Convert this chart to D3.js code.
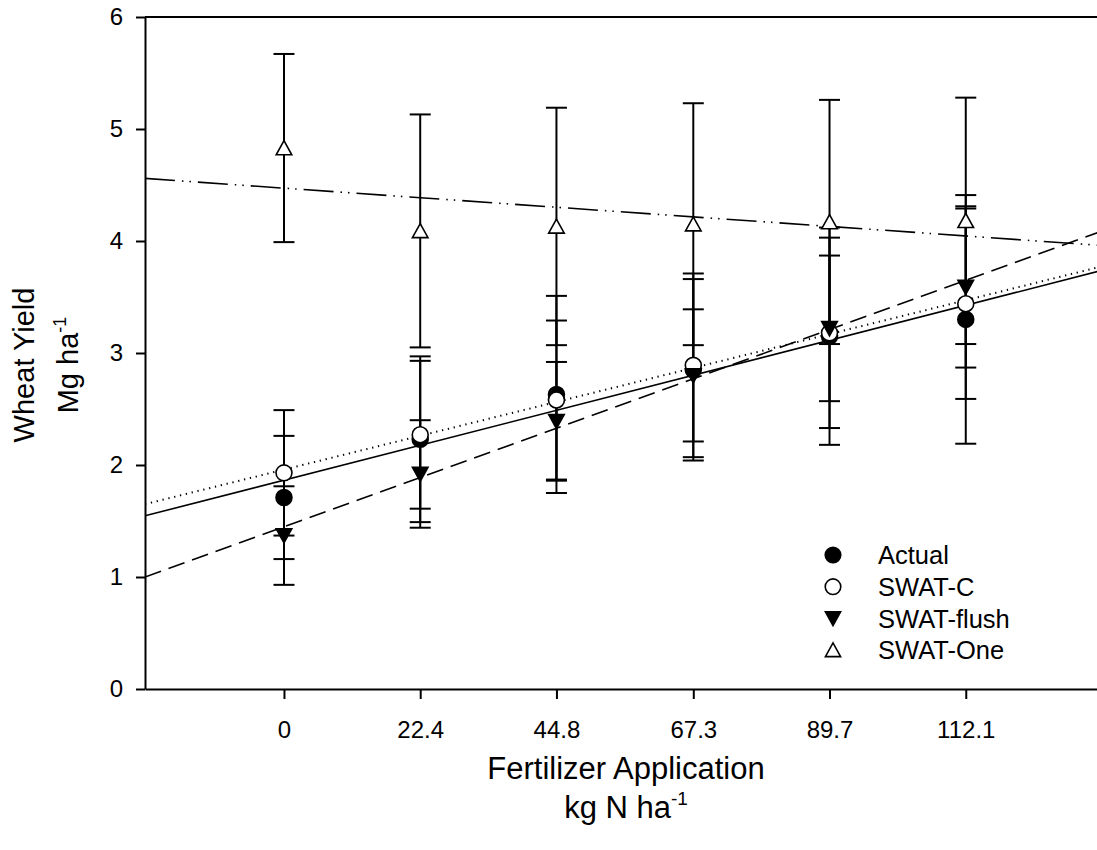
<!DOCTYPE html>
<html>
<head>
<meta charset="utf-8">
<script src="https://cdn.jsdelivr.net/npm/d3@7"></script>
<style>
  body { margin: 0; background: #fff; }
  text { font-family: Arial, "Liberation Sans", sans-serif; fill: #000; }
</style>
</head>
<body>
<svg class="chart"></svg>
<script>
var svgWidth = 1097,
    svgHeight = 850,
    plot = {left: 145, right: 1102, top: 17, bottom: 689};

// nitrogen rates, kg N / ha
var rates = [0, 22.4, 44.8, 67.3, 89.7, 112.1];
var rateLabels = ['0', '22.4', '44.8', '67.3', '89.7', '112.1'];

// yields (Mg/ha) and error bar half widths
var actual      = [1.71, 2.23, 2.63, 2.85, 3.15, 3.30];
var actualErr   = [0.55, 0.74, 0.88, 0.81, 0.97, 1.11];
var swatC       = [1.93, 2.27, 2.58, 2.89, 3.18, 3.44];
var swatCErr    = [0.56, 0.66, 0.71, 0.82, 0.85, 0.85];
var swatFlush   = [1.37, 1.92, 2.39, 2.80, 3.22, 3.59];
var swatFlushErr = [0.44, 0.48, 0.53, 0.59, 0.65, 0.72];
var swatOne     = [4.83, 4.09, 4.13, 4.15, 4.17, 4.18];
var swatOneErr  = [0.84, 1.04, 1.06, 1.08, 1.09, 1.10];

var yTicks = [0, 1, 2, 3, 4, 5, 6];

var series = [
  {name: 'Actual', values: actual, err: actualErr, symbol: 'circle', fill: '#000', dash: null},
  {name: 'SWAT-C', values: swatC, err: swatCErr, symbol: 'circle', fill: '#fff', dash: '1.3,4.7'},
  {name: 'SWAT-flush', values: swatFlush, err: swatFlushErr, symbol: 'down', fill: '#000', dash: '17,8'},
  {name: 'SWAT-One', values: swatOne, err: swatOneErr, symbol: 'up', fill: '#fff', dash: '30,7,1.5,6,1.5,7'}
];

var xScale = d3.scaleLinear().domain([-22.85, 134.5]).range([plot.left, plot.right]),
    yScale = d3.scaleLinear().domain([0, 6]).range([plot.bottom, plot.top]);

var svg = d3.select('.chart')
    .attr('width', svgWidth)
    .attr('height', svgHeight);

svg.append('defs').append('clipPath').attr('id', 'clip')
  .append('rect')
    .attr('x', plot.left).attr('y', plot.top)
    .attr('width', plot.right - plot.left).attr('height', plot.bottom - plot.top);

// least squares line for each series
var fit = function(xs, ys) {
  var mx = d3.mean(xs), my = d3.mean(ys);
  var sxy = d3.sum(xs, function(x, i) { return (x - mx) * (ys[i] - my); });
  var sxx = d3.sum(xs, function(x) { return (x - mx) * (x - mx); });
  var b = sxy / sxx;
  return {a: my - b * mx, b: b};
};

var lines = svg.append('g').attr('clip-path', 'url(#clip)');
series.forEach(function(s) {
  var f = fit(rates, s.values);
  var x0 = xScale.domain()[0], x1 = xScale.domain()[1];
  lines.append('line')
    .attr('x1', xScale(x0)).attr('y1', yScale(f.a + f.b * x0))
    .attr('x2', xScale(x1)).attr('y2', yScale(f.a + f.b * x1))
    .attr('stroke', '#000')
    .attr('stroke-width', s.dash === '1.3,4.7' ? 2 : 1.6)
    .attr('stroke-dasharray', s.dash);
});

// error bars
var bars = svg.append('g');
series.forEach(function(s) {
  var g = bars.selectAll(null).data(rates).enter().append('g');
  g.append('line')
    .attr('x1', function(d) { return xScale(d); })
    .attr('x2', function(d) { return xScale(d); })
    .attr('y1', function(d, i) { return yScale(s.values[i] + s.err[i]); })
    .attr('y2', function(d, i) { return yScale(s.values[i] - s.err[i]); });
  g.append('line')
    .attr('x1', function(d) { return xScale(d) - 10.5; })
    .attr('x2', function(d) { return xScale(d) + 10.5; })
    .attr('y1', function(d, i) { return yScale(s.values[i] + s.err[i]); })
    .attr('y2', function(d, i) { return yScale(s.values[i] + s.err[i]); });
  g.append('line')
    .attr('x1', function(d) { return xScale(d) - 10.5; })
    .attr('x2', function(d) { return xScale(d) + 10.5; })
    .attr('y1', function(d, i) { return yScale(s.values[i] - s.err[i]); })
    .attr('y2', function(d, i) { return yScale(s.values[i] - s.err[i]); });
});
bars.selectAll('line').attr('stroke', '#000').attr('stroke-width', 2);

var symbolPath = function(type, size) {
  if (type === 'circle') return d3.symbol(d3.symbolCircle, size)();
  var h = Math.sqrt(size) * 0.95;
  var tri = type === 'down'
    ? [[-h * 0.58, -h * 0.5], [h * 0.58, -h * 0.5], [0, h * 0.55]]
    : [[-h * 0.58, h * 0.5], [h * 0.58, h * 0.5], [0, -h * 0.55]];
  return 'M' + tri.join('L') + 'Z';
};

// markers
series.forEach(function(s) {
  svg.append('g').selectAll('path')
    .data(rates)
    .enter().append('path')
      .attr('d', symbolPath(s.symbol, 200))
      .attr('transform', function(d, i) { return 'translate(' + xScale(d) + ',' + yScale(s.values[i]) + ')'; })
      .attr('fill', s.fill)
      .attr('stroke', '#000')
      .attr('stroke-width', 1.6);
});

// axes
var xAxis = d3.axisBottom(xScale).tickValues(rates)
      .tickFormat(function(d, i) { return rateLabels[i]; })
      .tickSize(10).tickPadding(22).tickSizeOuter(0),
    yAxis = d3.axisLeft(yScale).tickValues(yTicks).tickFormat(d3.format('d'))
      .tickSize(9).tickPadding(13).tickSizeOuter(0);

var gx = svg.append('g').attr('transform', 'translate(0,' + plot.bottom + ')').call(xAxis);
var gy = svg.append('g').attr('transform', 'translate(' + plot.left + ',0)').call(yAxis);
[gx, gy].forEach(function(g) {
  g.attr('font-size', null).attr('font-family', null);
  g.select('.domain').attr('stroke', '#000').attr('stroke-width', 2);
  g.selectAll('.tick line').attr('stroke', '#000').attr('stroke-width', 2);
  g.selectAll('.tick text').style('font-size', '24px').attr('fill', '#000');
});

// top frame line
svg.append('line')
  .attr('x1', plot.left).attr('x2', plot.right)
  .attr('y1', plot.top).attr('y2', plot.top)
  .attr('stroke', '#000').attr('stroke-width', 2);

// axis titles
svg.append('text').attr('x', 626).attr('y', 779).attr('text-anchor', 'middle')
  .style('font-size', '31px').text('Fertilizer Application');
var xt2 = svg.append('text').attr('x', 626).attr('y', 818).attr('text-anchor', 'middle').style('font-size', '31px');
xt2.append('tspan').text('kg N ha');
xt2.append('tspan').style('font-size', '19px').attr('dy', -13).text('-1');

var yt = svg.append('g').attr('transform', 'translate(0,365) rotate(-90)');
yt.append('text').attr('x', 0).attr('y', 34).attr('text-anchor', 'middle')
  .style('font-size', '29px').text('Wheat Yield');
var yt2 = yt.append('text').attr('x', 0).attr('y', 78).attr('text-anchor', 'middle').style('font-size', '29px');
yt2.append('tspan').text('Mg ha');
yt2.append('tspan').style('font-size', '18px').attr('dy', -12).text('-1');

// legend
var legend = svg.append('g').attr('transform', 'translate(833,555)');
var item = legend.selectAll('g').data(series).enter().append('g')
  .attr('transform', function(d, i) { return 'translate(0,' + (i * 31.7) + ')'; });
item.append('path')
  .attr('d', function(d) { return symbolPath(d.symbol, 190); })
  .attr('fill', function(d) { return d.fill; })
  .attr('stroke', '#000').attr('stroke-width', 1.6);
item.append('text').attr('x', 45).attr('dy', '0.36em').style('font-size', '25.5px')
  .text(function(d) { return d.name; });
</script>
</body>
</html>
